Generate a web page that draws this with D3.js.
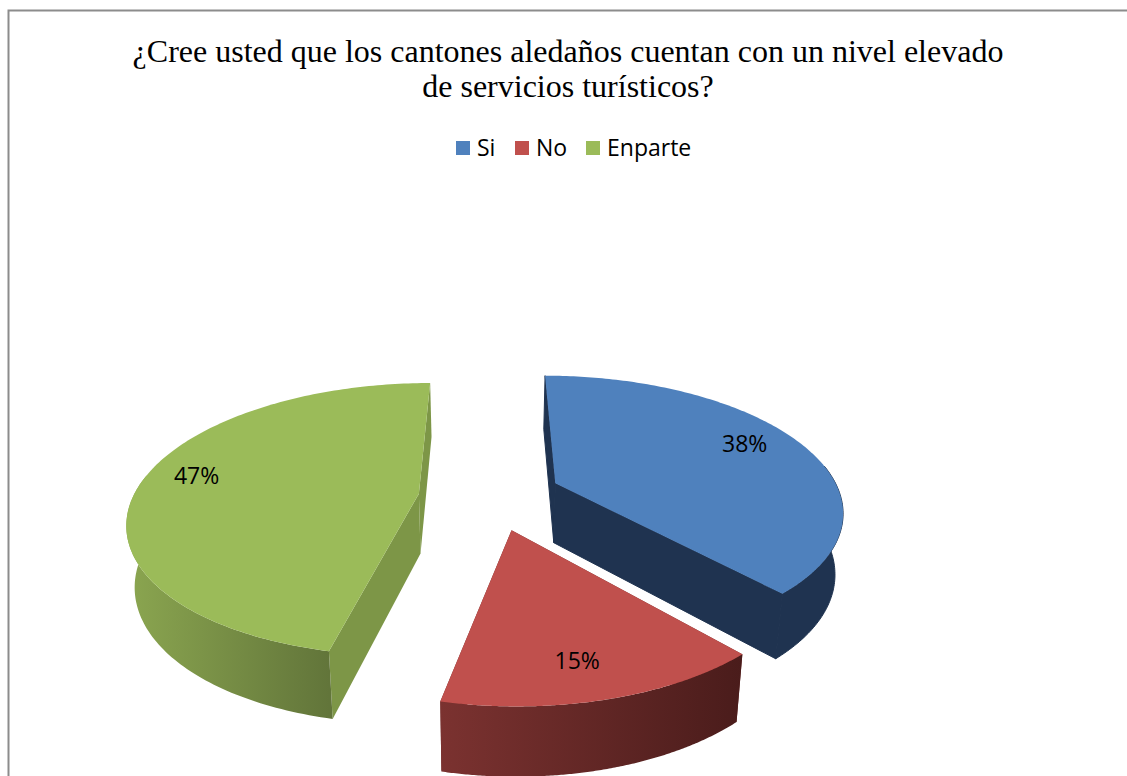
<!DOCTYPE html>
<html><head><meta charset="utf-8">
<style>html,body{margin:0;padding:0;background:#fff}svg{display:block}</style>
<script src="https://cdnjs.cloudflare.com/ajax/libs/d3/7.8.5/d3.min.js"></script>
</head><body><svg id="c" width="1127" height="776"></svg>
<script>
const titleLines = ["¿Cree usted que los cantones aledaños cuentan con un nivel elevado","de servicios turísticos?"];
const categories = ["Si","No","Enparte"];
const values = [38.4,15,46.6];
const topColors = ["#4f81bd","#c0504d","#9bbb59"];
const faceColors = ["#1f3350","#6e2c2a","#7d9647"];
const wallFrom = ["#1f3350","#7b3230","#8ba650"];
const wallTo = ["#1f3350","#4a1c1b","#62753a"];
const offsetX = [0.233,0.072,-0.25];
const offsetZ = [-0.09,0.255,-0.01];
const sliceRadius = [1,0.975,1];
const labelAngle = [66,167,279.7];
const labelRadius = [0.8,0.78,0.82];

const W=1127,H=776,cx=490,cy=495,R=285,Rk=132,dist=5.3,depth=60,shrink=0.977;
const svg=d3.select("#c");
const pie=d3.pie().sort(null).value(d=>d)(values);

// perspective projection of a disc-plane point
function proj(X,Z){const s=dist/(dist-Z);return {x:cx+R*X*s,y:cy+Rk*Z*s,s};}
function down(p){return {x:cx+(p.x-cx)*shrink,y:p.y+depth*Math.pow(p.s,0.6),s:p.s};}
const line=d3.line().x(p=>p.x).y(p=>p.y);

// frame
svg.append("path").attr("d","M8.5,776V10.5H1127").attr("fill","none").attr("stroke","#8c8c8c").attr("stroke-width",2);

const defs=svg.append("defs");
pie.forEach((a,i)=>{
  const ox=offsetX[i], oz=offsetZ[i], rr=sliceRadius[i];
  const pt=(ang,r)=>proj(ox+r*Math.sin(ang),oz-r*Math.cos(ang));
  const apex=pt(0,0);
  const n=160;
  const angs=d3.range(n+1).map(k=>a.startAngle+(a.endAngle-a.startAngle)*k/n);
  const arc=angs.map(t=>pt(t,rr));
  const wallArc=angs.filter(t=>Math.cos(t)<=0.15).map(t=>pt(t,rr));
  const wallB=wallArc.map(down);
  const g=svg.append("g").attr("class","slice");
  const ax0=arc[0], ax1=arc[n];
  const xs=d3.extent(arc,p=>p.x);
  const gid="w"+i;
  const lg=defs.append("linearGradient").attr("id",gid).attr("gradientUnits","userSpaceOnUse")
    .attr("x1",xs[0]).attr("x2",i===2?ax0.x:xs[1]).attr("y1",0).attr("y2",0);
  lg.append("stop").attr("offset",0).attr("stop-color",wallFrom[i]);
  lg.append("stop").attr("offset",1).attr("stop-color",wallTo[i]);
  const seam=i===0?faceColors[i]:"none";
  // cut faces
  g.append("path").attr("d",line([apex,ax0,down(ax0),down(apex)])+"Z").attr("fill",faceColors[i]).attr("stroke",seam);
  g.append("path").attr("d",line([apex,ax1,down(ax1),down(apex)])+"Z").attr("fill",faceColors[i]).attr("stroke",seam);
  // outer wall
  g.append("path").attr("d",line(wallArc.concat(wallB.slice().reverse()))+"Z")
    .attr("fill",`url(#${gid})`).attr("stroke",seam);
  // top
  g.append("path").attr("d",line([apex].concat(arc))+"Z").attr("fill",topColors[i]);
  // label
  const lp=pt(labelAngle[i]*Math.PI/180,labelRadius[i]);
  svg.append("text").attr("x",lp.x).attr("y",lp.y).attr("dy","0.35em").attr("text-anchor","middle")
    .attr("font-family","'Open Sans',sans-serif").attr("font-size",23).attr("fill","#000").text(Math.round(values[i])+"%");
});

// title
svg.selectAll("text.t").data(titleLines).join("text").attr("class","t")
  .attr("x",568).attr("y",(d,i)=>62+i*35).attr("text-anchor","middle")
  .attr("font-family","'Liberation Serif',serif").attr("font-size",32).attr("fill","#000").text(d=>d);

// legend
const legendX=d3.scaleOrdinal().domain(categories).range([456,515,586]);
const lg=svg.append("g");
categories.forEach((c,i)=>{
  lg.append("rect").attr("x",legendX(c)).attr("y",141).attr("width",14).attr("height",14).attr("fill",topColors[i]);
  lg.append("text").attr("x",legendX(c)+21).attr("y",156).attr("font-family","'Open Sans',sans-serif")
    .attr("font-size",23).attr("fill","#000").text(c);
});
</script></body></html>
